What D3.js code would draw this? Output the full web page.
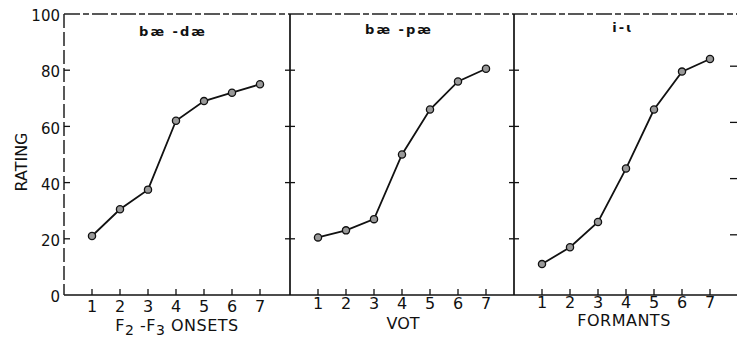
<!DOCTYPE html>
<html>
<head>
<meta charset="utf-8">
<script src="https://cdn.jsdelivr.net/npm/d3@7"></script>
<style>
    body { margin: 0; background: #fff; }
    svg { display: block; }
    text { font-family: "DejaVu Sans", sans-serif; fill: #111; }
</style>
</head>
<body>
<div id="chart"></div>
<script>
// stimulus steps on each continuum
const steps = [1, 2, 3, 4, 5, 6, 7];
const yTicks = [0, 20, 40, 60, 80, 100];

const panelTitles = ['bæ -dæ', 'bæ -pæ', 'i-ɩ'];
const panelAxisLabels = ['ONSETS', 'VOT', 'FORMANTS'];

// mean ratings
const onsetRatings = [21, 30.5, 37.5, 62, 69, 72, 75];
const votRatings = [20.5, 23, 27, 50, 66, 76, 80.5];
const formantRatings = [11, 17, 26, 45, 66, 79.5, 84];

document.addEventListener('DOMContentLoaded', () => {
    const width = 737;
    const height = 337;
    const panelLefts = [64, 290, 514];
    const panelWidth = 224;
    const top = 14;
    const base = 295;
    // the scanned page is slightly tilted, labels sit higher to the right
    const lift = [0, 3, 4];

    const series = [onsetRatings, votRatings, formantRatings];

    const svg = d3.select('#chart').append('svg')
        .attr('width', width)
        .attr('height', height);

    const y = d3.scaleLinear().domain([0, 100]).range([base, top]);

    // frame: top edge and baseline
    svg.append('line')
        .attr('x1', panelLefts[0]).attr('x2', width)
        .attr('y1', top).attr('y2', top)
        .attr('stroke', '#222').attr('stroke-width', 1.4)
        .attr('stroke-dasharray', '16,3,6,3');

    svg.append('line')
        .attr('x1', panelLefts[0]).attr('x2', width)
        .attr('y1', base).attr('y2', base)
        .attr('stroke', '#111').attr('stroke-width', 1.6);

    // left axis of first panel
    svg.append('line')
        .attr('x1', panelLefts[0]).attr('x2', panelLefts[0])
        .attr('y1', top).attr('y2', base)
        .attr('stroke', '#222').attr('stroke-width', 1.5)
        .attr('stroke-dasharray', '14,4');

    svg.append('g')
        .selectAll('line')
        .data(yTicks.slice(1, -1))
        .enter().append('line')
        .attr('x1', panelLefts[0]).attr('x2', panelLefts[0] + 6)
        .attr('y1', d => y(d)).attr('y2', d => y(d))
        .attr('stroke', '#111').attr('stroke-width', 1.3);

    svg.append('g')
        .selectAll('text')
        .data(yTicks)
        .enter().append('text')
        .attr('x', panelLefts[0] - 4)
        .attr('y', d => y(d) + 2)
        .attr('dy', '0.35em')
        .attr('text-anchor', 'end')
        .style('font-size', '15px')
        .text(d => d);

    svg.append('text')
        .attr('transform', `translate(27, 162) rotate(-90)`)
        .attr('text-anchor', 'middle')
        .style('font-size', '16px')
        .text('RATING');

    // dividers between panels, ticks cross both sides
    [panelLefts[1], panelLefts[2]].forEach(px => {
        svg.append('line')
            .attr('x1', px).attr('x2', px)
            .attr('y1', top).attr('y2', base)
            .attr('stroke', '#111').attr('stroke-width', 1.7);

        svg.append('g')
            .selectAll('line')
            .data(yTicks.slice(1, -1))
            .enter().append('line')
            .attr('x1', px - 5).attr('x2', px + 5)
            .attr('y1', d => y(d)).attr('y2', d => y(d))
            .attr('stroke', '#111').attr('stroke-width', 1.3);
    });

    // stray ticks on the right edge
    svg.append('g')
        .selectAll('line')
        .data(yTicks.slice(1, -1))
        .enter().append('line')
        .attr('x1', width - 7).attr('x2', width)
        .attr('y1', d => y(d) - 4).attr('y2', d => y(d) - 4)
        .attr('stroke', '#111').attr('stroke-width', 1.3);

    const line = d3.line();

    series.forEach((values, i) => {
        const left = panelLefts[i];
        const x = d3.scaleLinear().domain([0, 8]).range([left, left + panelWidth]);
        const g = svg.append('g');

        g.selectAll('.xtick')
            .data(steps)
            .enter().append('line')
            .attr('x1', d => x(d)).attr('x2', d => x(d))
            .attr('y1', base).attr('y2', base - 6)
            .attr('stroke', '#111').attr('stroke-width', 1.3);

        g.selectAll('.xlabel')
            .data(steps)
            .enter().append('text')
            .attr('x', d => x(d))
            .attr('y', 312 - lift[i])
            .attr('text-anchor', 'middle')
            .style('font-size', '16px')
            .text(d => d);

        g.append('text')
            .attr('x', left + 109)
            .attr('y', 36 - i * 2)
            .attr('text-anchor', 'middle')
            .style('font-size', '13px')
            .style('font-weight', 'bold')
            .style('letter-spacing', '2px')
            .text(panelTitles[i]);

        const pts = values.map((v, k) => [x(steps[k]), y(v)]);

        g.append('path')
            .attr('d', line(pts))
            .attr('fill', 'none')
            .attr('stroke', '#111')
            .attr('stroke-width', 1.8);

        g.selectAll('circle')
            .data(pts)
            .enter().append('circle')
            .attr('cx', d => d[0])
            .attr('cy', d => d[1])
            .attr('r', 3.6)
            .attr('fill', '#999')
            .attr('stroke', '#111')
            .attr('stroke-width', 1.3);
    });

    // x axis titles
    const t1 = svg.append('text')
        .attr('x', 177)
        .attr('y', 331)
        .attr('text-anchor', 'middle')
        .style('font-size', '16px')
        .style('letter-spacing', '0.5px');
    t1.append('tspan').text('F');
    t1.append('tspan').attr('dy', 4).style('font-size', '14px').text('2');
    t1.append('tspan').attr('dy', -4).text(' -F');
    t1.append('tspan').attr('dy', 4).style('font-size', '14px').text('3');
    t1.append('tspan').attr('dy', -4).text('   ' + panelAxisLabels[0]);

    svg.append('text')
        .attr('x', 403)
        .attr('y', 329)
        .attr('text-anchor', 'middle')
        .style('font-size', '16px')
        .text(panelAxisLabels[1]);

    svg.append('text')
        .attr('x', 624)
        .attr('y', 326)
        .attr('text-anchor', 'middle')
        .style('font-size', '16px')
        .style('letter-spacing', '0.5px')
        .text(panelAxisLabels[2]);
});
</script>
</body>
</html>
